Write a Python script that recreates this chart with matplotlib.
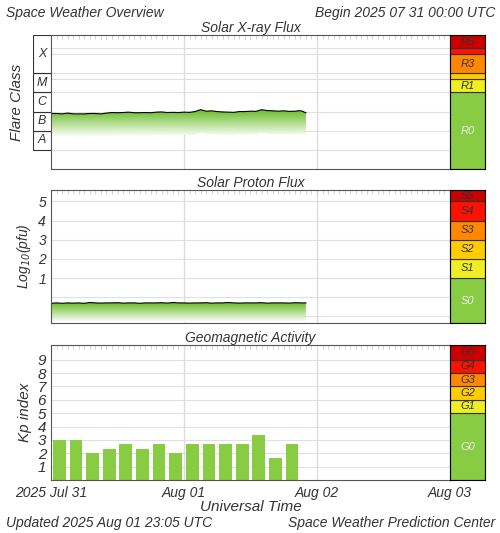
import numpy as np
import matplotlib
matplotlib.use("Agg")
import matplotlib.pyplot as plt
from matplotlib.patches import Rectangle

plt.rcParams["font.family"] = ["Liberation Sans", "DejaVu Sans"]
plt.rcParams["font.style"] = "italic"

# X-ray flux, log10(W/m^2), hourly from 2025-07-31 00 UTC
xray_hours = np.arange(0, 47)
xray_log = [-6.1, -6.1, -6.12, -6.08, -6.12, -6.12, -6.12, -6.1, -6.1, -6.12,
            -6.08, -6.05, -6.06, -6.05, -6.03, -6.06, -6.06, -6.05, -6.06, -6.03,
            -6.02, -6.05, -6.04, -6.05, -6.03, -6.04, -6.0, -5.9, -5.98, -5.96,
            -6.0, -6.02, -6.03, -6.04, -6.0, -6.0, -5.98, -5.99, -5.9, -5.95,
            -5.96, -5.98, -5.96, -5.99, -5.98, -5.95, -6.06]
# proton flux, log10(pfu)
proton_hours = np.arange(0, 47)
proton_log = [-0.32, -0.3, -0.32, -0.3, -0.31, -0.3, -0.32, -0.28, -0.3, -0.31,
              -0.3, -0.3, -0.29, -0.31, -0.3, -0.3, -0.32, -0.3, -0.3, -0.3,
              -0.29, -0.31, -0.28, -0.3, -0.3, -0.31, -0.3, -0.3, -0.29, -0.31,
              -0.3, -0.3, -0.28, -0.3, -0.31, -0.3, -0.3, -0.3, -0.29, -0.31,
              -0.3, -0.3, -0.3, -0.31, -0.29, -0.3, -0.3]
# Kp, 3-hourly
kp_hours = np.arange(0, 45, 3)
kp_values = [3.0, 3.0, 2.0, 2.33, 2.67, 2.33, 2.67, 2.0, 2.67, 2.67, 2.67, 2.67, 3.33, 1.67, 2.67]

r_levels = [(-9, -5, "#88cc44", "R0"), (-5, np.log10(5e-5), "#eeee22", "R1"),
            (np.log10(5e-5), -4, "#ffcc00", ""), (-4, -3, "#ff8800", "R3"),
            (-3, np.log10(2e-3), "#ff1100", ""), (np.log10(2e-3), -2, "#cc0000", "R5")]
s_levels = [(-1.35, 1, "#88cc44", "S0"), (1, 2, "#eeee22", "S1"), (2, 3, "#ffcc00", "S2"),
            (3, 4, "#ff8800", "S3"), (4, 5, "#ff1100", "S4"), (5, 5.6, "#cc0000", "S5")]
g_levels = [(0, 5, "#88cc44", "G0"), (5, 6, "#eeee22", "G1"), (6, 7, "#ffcc00", "G2"),
            (7, 8, "#ff8800", "G3"), (8, 9, "#ff1100", "G4"), (9, 10.1, "#cc0000", "G5")]

TXT = "#333333"
fig = plt.figure(figsize=(5.0, 5.33), dpi=100)


def px(y0, y1):
    return 1 - y1 / 533, (y1 - y0) / 533


def base_axes(y0, y1, ylim, title):
    b, h = px(y0, y1)
    ax = fig.add_axes([0.102, b, 0.798, h])
    ax.set_facecolor("white")
    ax.set_xlim(0, 72)
    ax.set_ylim(*ylim)
    for d in (24, 48):
        ax.axvline(d, color="#dddddd", lw=1, zorder=0)
    ax.set_xticks(np.arange(0, 73, 1), minor=True)
    ax.tick_params(axis="x", which="minor", direction="in", length=3, color="#cccccc", top=True, bottom=False)
    ax.set_xticks([])
    ax.set_yticks([])
    for s in ax.spines.values():
        s.set_color("#555555")
    ax.set_title(title, fontsize=10, color=TXT, pad=2)
    sb = fig.add_axes([0.9, b, 0.07, h])
    sb.set_xlim(0, 1)
    sb.set_ylim(*ylim)
    sb.set_xticks([]); sb.set_yticks([])
    return ax, sb


def scale(sb, levels):
    for lo, hi, c, lab in levels:
        sb.add_patch(Rectangle((0, lo), 1, hi - lo, facecolor=c, edgecolor="#333333", lw=0.8))
        if lab:
            col = "#eeeeee" if lab.endswith("0") else "#333333"
            sb.text(0.5, (lo + hi) / 2, lab, ha="center", va="center", fontsize=8, color=col)


def gradient_fill(ax, x, y, depth):
    x = np.asarray(x, float); y = np.asarray(y, float)
    poly = ax.fill_between(x, y, y - depth, color="none", lw=0)
    grad = np.linspace(1, 0, 100).reshape(-1, 1)
    cmap = matplotlib.colors.LinearSegmentedColormap.from_list("g", ["#ffffff", "#66bb22"])
    im = ax.imshow(grad, extent=[x.min(), x.max(), (y - depth).min(), y.max()],
                   aspect="auto", cmap=cmap, vmin=0, vmax=1, origin="upper", zorder=1)
    im.set_clip_path(poly.get_paths()[0], transform=ax.transData)
    ax.plot(x, y, color="black", lw=0.8, zorder=2)


# panel 1: X-ray
ax1, sb1 = base_axes(35, 169, (-9, -2), "Solar X-ray Flux")
ax1.set_ylim(-9, -2)
for yl in [-8, -7, -6, -5, -4, -3, np.log10(2e-3), np.log10(5e-5)]:
    ax1.axhline(yl, color="#e0e0e0", lw=0.8, zorder=0)
gradient_fill(ax1, xray_hours, xray_log, 1.2)
scale(sb1, r_levels)
b, h = px(35, 169)
lab = fig.add_axes([0.066, b, 0.036, h])
lab.set_ylim(-9, -2); lab.set_xlim(0, 1)
lab.axis("off")
for lo, hi, c in [(-8, -7, "A"), (-7, -6, "B"), (-6, -5, "C"), (-5, -4, "M"), (-4, -2, "X")]:
    lab.add_patch(Rectangle((0, lo), 1, hi - lo, facecolor="white", edgecolor="#333333", lw=0.8))
    lab.text(0.5, (lo + hi) / 2, c, ha="center", va="center", fontsize=9, color=TXT)
fig.text(0.035, b + h / 2, "Flare Class", rotation=90, ha="center", va="center", fontsize=11, color=TXT)

# panel 2: protons
ax2, sb2 = base_axes(190, 323, (-1.35, 5.6), "Solar Proton Flux")
for yl in range(-1, 6):
    ax2.axhline(yl, color="#e0e0e0", lw=0.8, zorder=0)
ax2.set_yticks([1, 2, 3, 4, 5])
ax2.tick_params(axis="y", length=0, labelsize=10, labelcolor=TXT)
gradient_fill(ax2, proton_hours, proton_log, 1.0)
scale(sb2, s_levels)
ax2.set_ylabel("Log$_{10}$(pfu)", fontsize=10, color=TXT)

# panel 3: Kp
ax3, sb3 = base_axes(345, 480, (0, 10.1), "Geomagnetic Activity")
for yl in range(1, 10):
    ax3.axhline(yl, color="#e0e0e0", lw=0.8, zorder=0)
ax3.bar(np.asarray(kp_hours) + 1.5, kp_values, width=2.3, color="#88cc44", zorder=2)
ax3.set_yticks(range(1, 10))
ax3.tick_params(axis="y", length=0, labelsize=11, labelcolor=TXT)
ax3.set_ylabel("Kp index", fontsize=11, color=TXT)
scale(sb3, g_levels)
ax3.set_xticks([0, 24, 48, 72], ["2025 Jul 31", "Aug 01", "Aug 02", "Aug 03"])
ax3.tick_params(axis="x", which="major", length=0, labelsize=10, labelcolor=TXT, pad=4)
ax3.set_xlabel("Universal Time", fontsize=11, color=TXT, labelpad=0)

fig.text(0.012, 0.975, "Space Weather Overview", fontsize=10, color=TXT, va="center")
fig.text(0.99, 0.975, "Begin 2025 07 31 00:00 UTC", fontsize=10, color=TXT, va="center", ha="right")
fig.text(0.012, 0.018, "Updated 2025 Aug 01 23:05 UTC", fontsize=10, color=TXT, va="center")
fig.text(0.99, 0.018, "Space Weather Prediction Center", fontsize=10, color=TXT, va="center", ha="right")

fig.savefig("out.png", dpi=100)
